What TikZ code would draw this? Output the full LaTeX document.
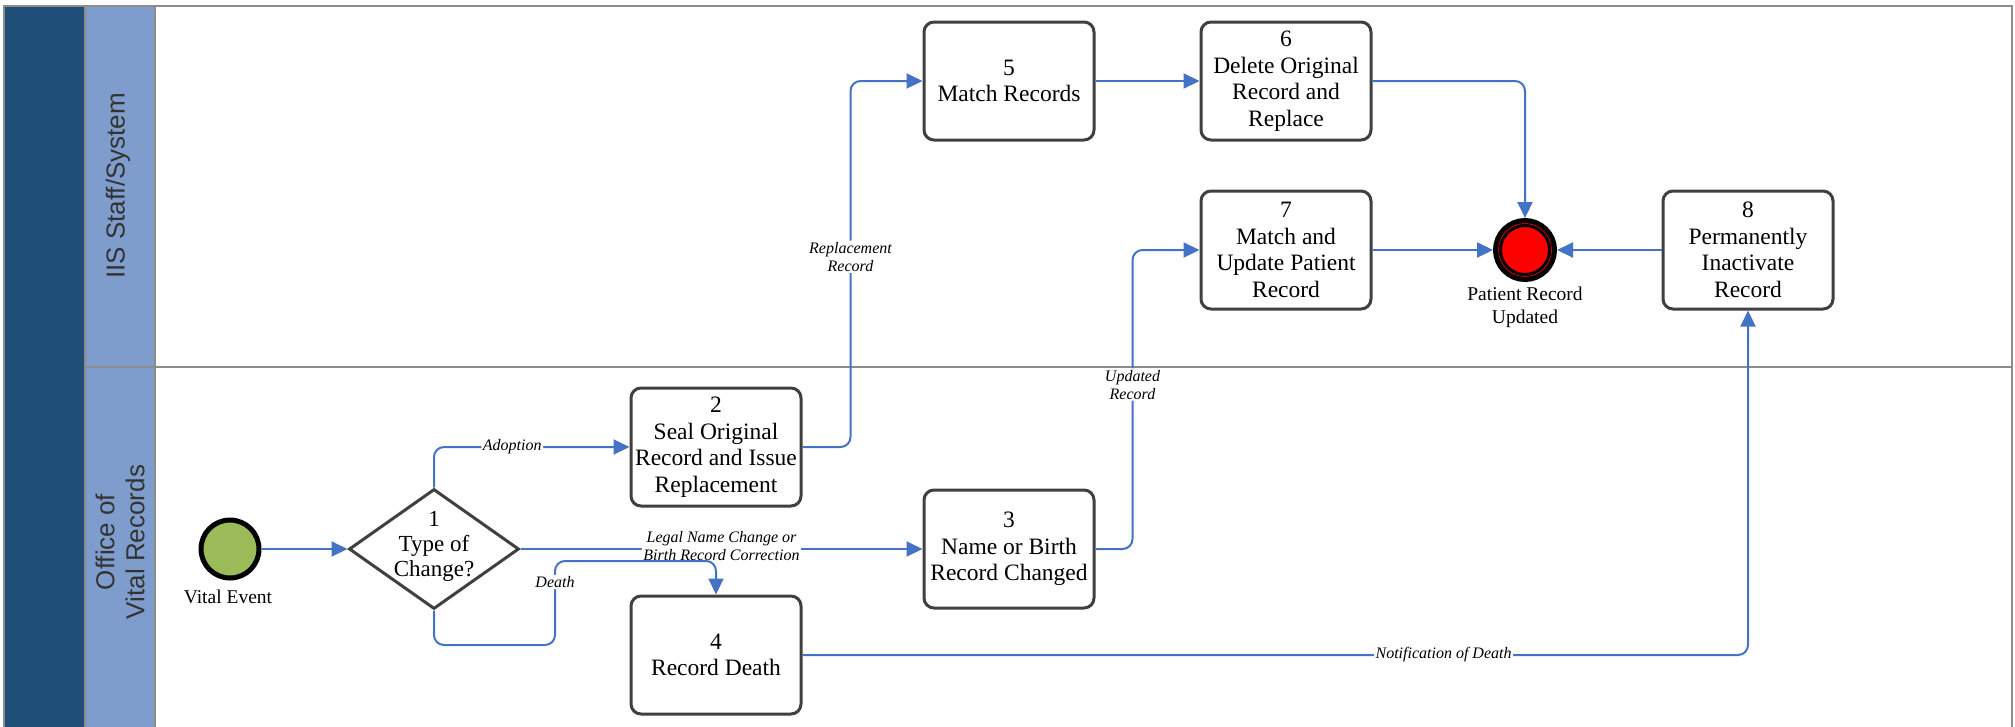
\documentclass[tikz,border=0pt]{standalone}
\usepackage{fontspec}
\setmainfont{Liberation Serif}
\newfontfamily\lanefont{Liberation Sans}
\usetikzlibrary{arrows.meta,shapes.geometric}
\definecolor{darkblue}{HTML}{1F4E79}
\definecolor{lightblue}{HTML}{7F9DCC}
\definecolor{framegray}{HTML}{8C8C8C}
\definecolor{boxgray}{HTML}{404040}
\definecolor{flowblue}{HTML}{4472C4}
\definecolor{lanetext}{HTML}{333333}
\definecolor{startgreen}{HTML}{9BBB59}
\tikzset{
  stepbox/.style={draw=boxgray, line width=3pt, rounded corners=10pt, fill=white,
    minimum width=170pt, minimum height=118pt, align=center, inner sep=2pt,
    font=\fontsize{23.5}{26.5}\selectfont},
  flow/.style={draw=flowblue, line width=2pt, rounded corners=10pt,
    -{Triangle[length=16pt,width=15pt]}},
  lbl/.style={fill=white, inner sep=1.5pt, align=center, text=black,
    font=\itshape\fontsize{16}{18}\selectfont},
  lanelbl/.style={rotate=90, align=center, text=lanetext,
    font=\lanefont\fontsize{26}{30}\selectfont},
  evlbl/.style={align=center, inner sep=1pt, font=\fontsize{19.5}{23}\selectfont},
  framel/.style={draw=framegray, line width=2.5pt}
}
\begin{document}
\begin{tikzpicture}[x=1pt,y=-1pt]
\useasboundingbox (0,0) rectangle (2015,726);
% pool and lanes
\fill[white] (4,6) rectangle (2012,740);
\fill[darkblue] (4,6) rectangle (85,740);
\fill[lightblue] (85,6) rectangle (155,740);
\draw[framel] (2012,740) -- (2012,6) -- (4,6) -- (4,740);
\draw[framel] (85,6) -- (85,740);
\draw[framel] (155,6) -- (155,740);
\draw[framel] (85,367) -- (2012,367);
\node[lanelbl] (lane1) at (118,186) {IIS Staff/System};
\node[lanelbl] (lane2) at (120,542) {Office of\\Vital Records};

% events
\node[circle, draw=black, line width=5pt, fill=startgreen, minimum size=58pt, inner sep=0pt] (start) at (230,549) {};
\node[evlbl] (startlbl) at (228,597) {Vital Event};
\node[circle, draw=black, line width=9pt, fill=red, minimum size=55pt, inner sep=0pt] (end) at (1525,250) {};
\draw[red, line width=0.6pt] (end.center) circle (26.5pt);
\node[evlbl] (endlbl) at (1525,307) {Patient Record\\Updated};

% decision
\node[diamond, draw=boxgray, line width=3pt, fill=white, minimum width=170pt, minimum height=120pt, inner sep=0pt] (dec) at (434,549) {};
\node[align=center, font=\fontsize{23}{25}\selectfont] (dectext) at ([yshift=3pt]dec.center) {1\\Type of\\Change?};

% tasks
\node[stepbox] (box2) at (716,447) {2\\Seal Original\\Record and Issue\\Replacement};
\node[stepbox] (box3) at (1009,549) {3\\Name or Birth\\Record Changed};
\node[stepbox] (box4) at (716,655) {4\\Record Death};
\node[stepbox] (box5) at (1009,81) {5\\Match Records};
\node[stepbox] (box6) at (1286,81) {6\\Delete Original\\Record and\\Replace};
\node[stepbox] (box7) at (1286,250) {7\\Match and\\Update Patient\\Record};
\node[stepbox] (box8) at (1748,250) {8\\Permanently\\Inactivate\\Record};

% connectors
\draw[flow] (start.east) -- (dec.west);
\draw[flow] (dec.north) |- node[lbl, pos=0.70] {Adoption} (box2.west);
\draw[flow] (dec.east) -- node[lbl, pos=0.5, yshift=3pt] {Legal Name Change or\\Birth Record Correction} (box3.west);
\coordinate (dA) at (555,645);
\coordinate (dB) at (555,561);
\draw[flow] (dec.south) |- (dA) -- node[lbl, pos=0.75] {Death} (dB) -| (box4.north);
\draw[flow] (box2.east) -| node[lbl, pos=0.76] {Replacement\\Record} ([xshift=-72pt]box5.west) -- (box5.west);
\draw[flow] (box5.east) -- (box6.west);
\draw[flow] (box6.east) -| (end.north);
\draw[flow] (box7.east) -- (end.west);
\draw[flow] (box8.west) -- (end.east);
\draw[flow] (box3.east) -| node[lbl, pos=0.775] {Updated\\Record} ([xshift=-67pt]box7.west) -- (box7.west);
\draw[flow] (box4.east) -| node[lbl, pos=0.339] {Notification of Death} (box8.south);
\end{tikzpicture}
\end{document}
